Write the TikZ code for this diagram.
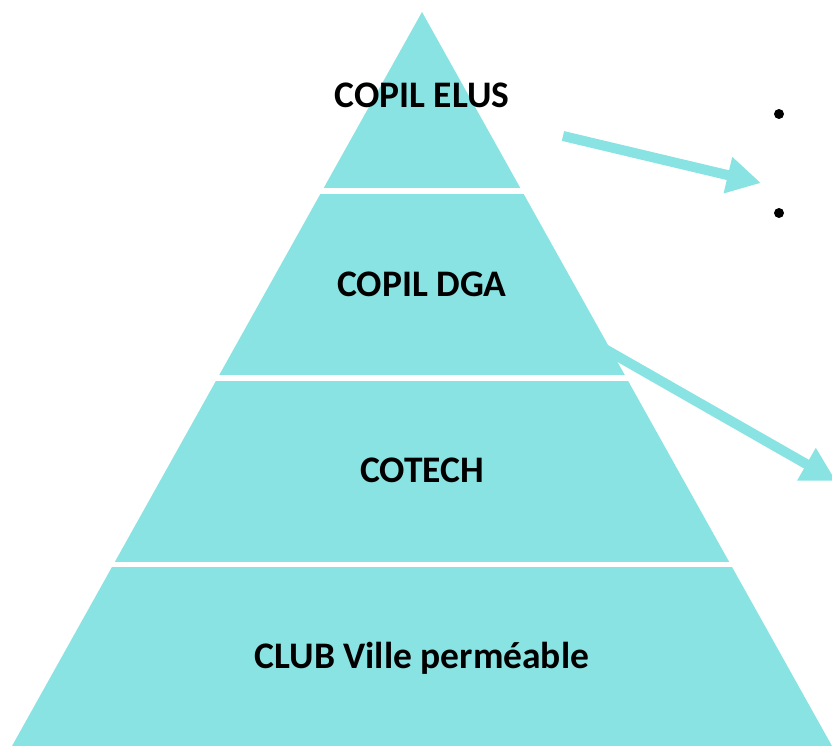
\documentclass[tikz,border=0pt]{standalone}
\usepackage{fontspec}
\setmainfont{Carlito}
\usetikzlibrary{arrows.meta}
\definecolor{pyr}{RGB}{137,227,226}
\tikzset{
  lvl/.style={font=\bfseries\fontsize{37.5}{42}\selectfont, anchor=base, inner sep=0pt},
  bigarrow/.style={draw=pyr, line width=10pt, -{Triangle[width=35pt,length=34pt]}},
  bullet/.style={circle, fill=black, inner sep=0pt, minimum size=10pt}
}
\begin{document}
\begin{tikzpicture}[x=1pt,y=-1pt]
\useasboundingbox (0,0) rectangle (832,746);
\clip (0,0) rectangle (832,746);
% pyramid
\coordinate (apex) at (422,12);
\coordinate (bl) at (12,746);
\coordinate (br) at (832,746);
\fill[pyr] (apex) -- (bl) -- (br) -- cycle;
% white gaps between levels
\fill[white] (0,188) rectangle (832,194);
\fill[white] (0,375) rectangle (832,381);
\fill[white] (0,562) rectangle (832,567);
% labels
\node[lvl] (elus) at (422,108) {COPIL ELUS};
\node[lvl] (dga) at (422,296) {COPIL DGA};
\node[lvl] (cotech) at (422,482) {COTECH};
\node[lvl] (club) at (422,668) {CLUB Ville perméable};
% bullets
\node[bullet] (b1) at (779,114) {};
\node[bullet] (b2) at (779,213) {};
% arrows
\coordinate (a1s) at (563,136);
\coordinate (a1e) at (761,183);
\coordinate (a2s) at (603,348);
\coordinate (a2e) at (836,481);
\draw[bigarrow] (a1s) -- (a1e);
\draw[bigarrow] (a2s) -- (a2e);
\end{tikzpicture}
\end{document}
